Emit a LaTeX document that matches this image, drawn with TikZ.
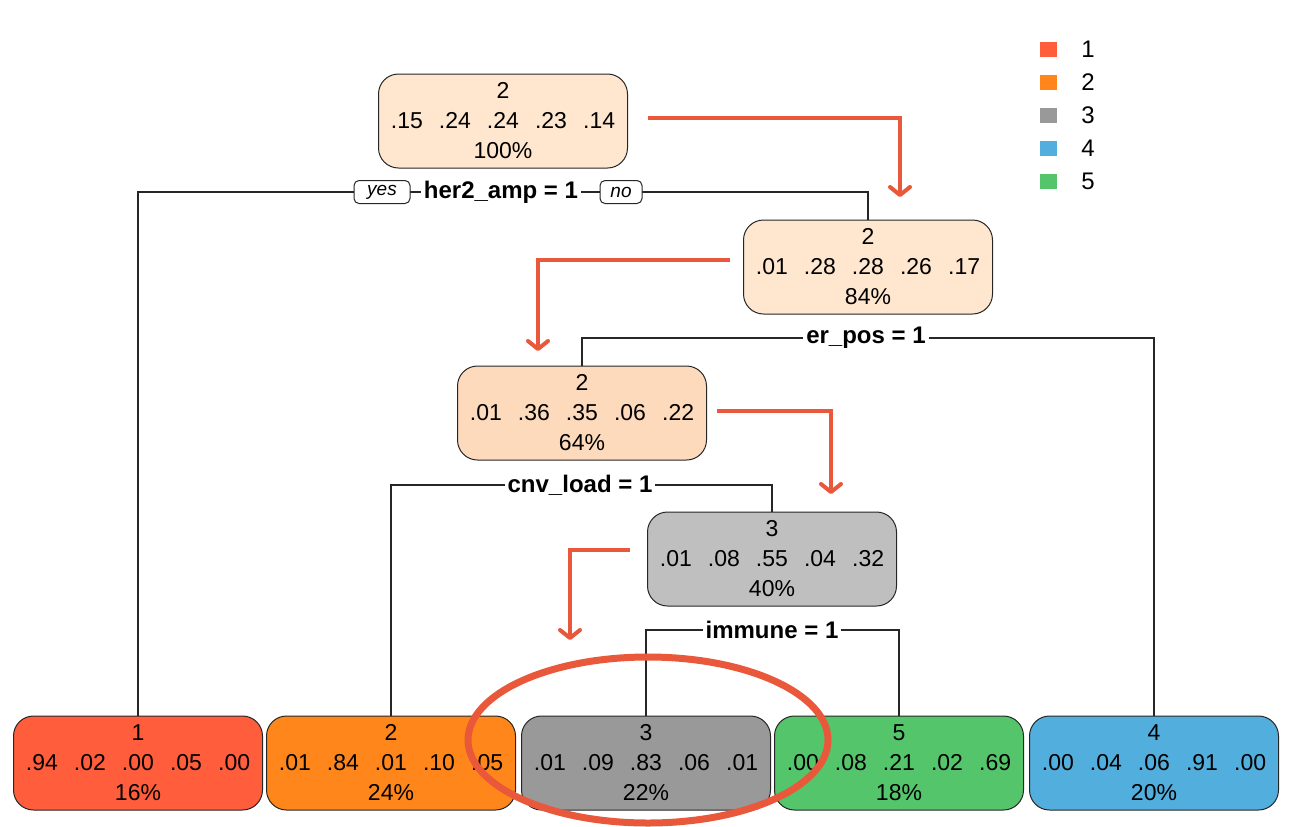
\documentclass[tikz,border=0pt]{standalone}
\usepackage{fontspec}
\setmainfont{Liberation Sans}
\usetikzlibrary{arrows.meta,backgrounds}

\definecolor{pale}{RGB}{254,230,207}
\definecolor{peach}{RGB}{253,218,187}
\definecolor{midgray}{RGB}{191,191,191}
\definecolor{cls1}{RGB}{255,93,60}
\definecolor{cls2}{RGB}{254,134,26}
\definecolor{cls3}{RGB}{153,153,153}
\definecolor{cls4}{RGB}{82,174,220}
\definecolor{cls5}{RGB}{84,197,106}
\definecolor{hl}{RGB}{233,88,58}

% five class probabilities, evenly spaced
\newcommand{\probrow}[5]{#1\hspace{0.7em}#2\hspace{0.7em}#3\hspace{0.7em}#4\hspace{0.7em}#5}

\begin{document}
\begin{tikzpicture}[x=0.5pt,y=-0.5pt,
  treenode/.style={draw=black!85, line width=0.5pt, rounded corners=10pt,
    minimum width=124.5pt, minimum height=47pt, align=center, inner sep=0pt,
    font=\fontsize{11.5}{15}\selectfont},
  splitlab/.style={fill=white, inner xsep=1.5pt, inner ysep=1pt,
    font=\bfseries\fontsize{12}{14}\selectfont},
  dirbox/.style={draw=black!85, line width=0.5pt, fill=white, rounded corners=2.5pt,
    minimum height=11.5pt, inner xsep=0pt, inner ysep=0pt,
    font=\itshape\fontsize{9.5}{11}\selectfont},
  branch/.style={draw=black!85, line width=0.6pt},
  hint/.style={draw=hl, line width=2pt,
    -{Straight Barb[length=4pt,width=10pt,round]}},
  swatch/.style={minimum width=8.5pt, minimum height=7.5pt, inner sep=0pt},
  legtext/.style={anchor=west, inner sep=0pt, font=\fontsize{12}{14}\selectfont}]

\useasboundingbox (0,0) rectangle (1296,826);

% inner nodes
\node[treenode, fill=pale]    (root) at (503,121) {2\\\probrow{.15}{.24}{.24}{.23}{.14}\\100\%};
\node[treenode, fill=pale]    (n84)  at (868,267) {2\\\probrow{.01}{.28}{.28}{.26}{.17}\\84\%};
\node[treenode, fill=peach]   (n64)  at (582,413) {2\\\probrow{.01}{.36}{.35}{.06}{.22}\\64\%};
\node[treenode, fill=midgray] (n40)  at (772,559) {3\\\probrow{.01}{.08}{.55}{.04}{.32}\\40\%};

% leaves
\node[treenode, fill=cls1] (leafA) at (138,763) {1\\\probrow{.94}{.02}{.00}{.05}{.00}\\16\%};
\node[treenode, fill=cls2] (leafB) at (391,763) {2\\\probrow{.01}{.84}{.01}{.10}{.05}\\24\%};
\node[treenode, fill=cls3] (leafC) at (646,763) {3\\\probrow{.01}{.09}{.83}{.06}{.01}\\22\%};
\node[treenode, fill=cls5] (leafE) at (899,763) {5\\\probrow{.00}{.08}{.21}{.02}{.69}\\18\%};
\node[treenode, fill=cls4] (leafD) at (1154,763) {4\\\probrow{.00}{.04}{.06}{.91}{.00}\\20\%};

% split labels
\node[splitlab] (s1) at (501,192) {her2\_amp = 1};
\node[dirbox, minimum width=28pt] (yes) at (382,192) {yes};
\node[dirbox, minimum width=21pt] (no)  at (621,192) {no};
\node[splitlab] (s2) at (866,338) {er\_pos = 1};
\node[splitlab] (s3) at (580,485) {cnv\_load = 1};
\node[splitlab] (s4) at (772,630) {immune = 1};

% branches
\begin{scope}[on background layer]
  \draw[branch] (leafA.north) |- (s1.center) -| (n84.north);
  \draw[branch] (n64.north)   |- (s2.center) -| (leafD.north);
  \draw[branch] (leafB.north) |- (s3.center) -| (n40.north);
  \draw[branch] (leafC.north) |- (s4.center) -| (leafE.north);
\end{scope}

% legend
\foreach \k/\c [count=\i from 0] in {1/cls1,2/cls2,3/cls3,4/cls4,5/cls5}{
  \node[swatch, fill=\c] (sw\k) at (1048,49+33*\i) {};
  \node[legtext] (lg\k) at (1081,49+33*\i) {\k};
}

% highlighted path
\coordinate (p1a) at (648,118);  \coordinate (p1b) at (900,197);
\coordinate (p2a) at (730,260);  \coordinate (p2b) at (538,351);
\coordinate (p3a) at (717,411);  \coordinate (p3b) at (831,494);
\coordinate (p4a) at (630,550);  \coordinate (p4b) at (570,640);
\draw[hint] (p1a) -| (p1b);
\draw[hint] (p2a) -| (p2b);
\draw[hint] (p3a) -| (p3b);
\draw[hint] (p4a) -| (p4b);

% final leaf marker
\coordinate (ring) at (648,740);
\draw[hl, line width=3.5pt] (ring) ellipse [x radius=180, y radius=83];
\end{tikzpicture}
\end{document}
